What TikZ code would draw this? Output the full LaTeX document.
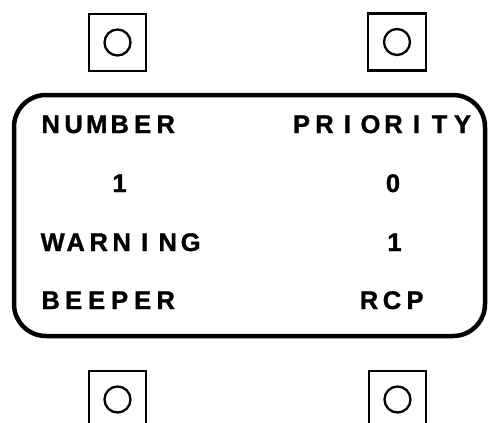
\documentclass[tikz,border=0pt]{standalone}
\usepackage{fontspec}
\setmainfont{Liberation Sans}[BoldFeatures={FakeBold=1.2}]
\newlength\cellw
\setlength\cellw{23pt}
\def\cells#1{\cellsi#1\relax}
\def\cellsi#1{\ifx#1\relax\else\makebox[\cellw][c]{#1}\expandafter\cellsi\fi}
\begin{document}
\begin{tikzpicture}[x=1pt,y=-1pt,
  smallbox/.style={draw, line width=2.3pt, minimum width=57.5pt, minimum height=57pt, inner sep=0pt},
  knob/.style={draw, circle, line width=2.3pt, minimum size=26pt, inner sep=0pt},
  panel/.style={draw, line width=4.5pt, rounded corners=32pt, minimum width=471pt, minimum height=241pt, inner sep=0pt},
  lbl/.style={inner sep=0pt, font=\fontsize{25.5}{30}\selectfont\bfseries}]
\useasboundingbox (0,0) rectangle (488,423);
\clip (0,0) rectangle (488,423);
\fill[white] (0,0) rectangle (488,423);
% switches
\node[smallbox] (b1) at (117.5,42.5) {};
\node[knob] (k1) at (b1.center) {};
\node[smallbox] (b2) at (397,42) {};
\node[knob] (k2) at (b2.center) {};
\node[smallbox] (b3) at (117.5,399.5) {};
\node[knob] (k3) at (b3.center) {};
\node[smallbox] (b4) at (397.5,399.5) {};
\node[knob] (k4) at (b4.center) {};
% display panel
\node[panel] (p) at (249.5,215.5) {};
% labels
\node[lbl, anchor=base west] (number) at (39,133) {\cells{NUMBER}};
\node[lbl, anchor=base] (priority) at (382,133) {\cells{PRIORITY}};
\node[lbl, anchor=base] (numval) at (119.5,192) {1};
\node[lbl, anchor=base] (prival) at (393,192) {0};
\node[lbl, anchor=base west] (warning) at (41,251) {\cells{WARNING}};
\node[lbl, anchor=base] (warnval) at (394.5,251) {1};
\node[lbl, anchor=base west] (beeper) at (39,309) {\cells{BEEPER}};
\node[lbl, anchor=base] (rcp) at (392,309) {\cells{RCP}};
\end{tikzpicture}
\end{document}
